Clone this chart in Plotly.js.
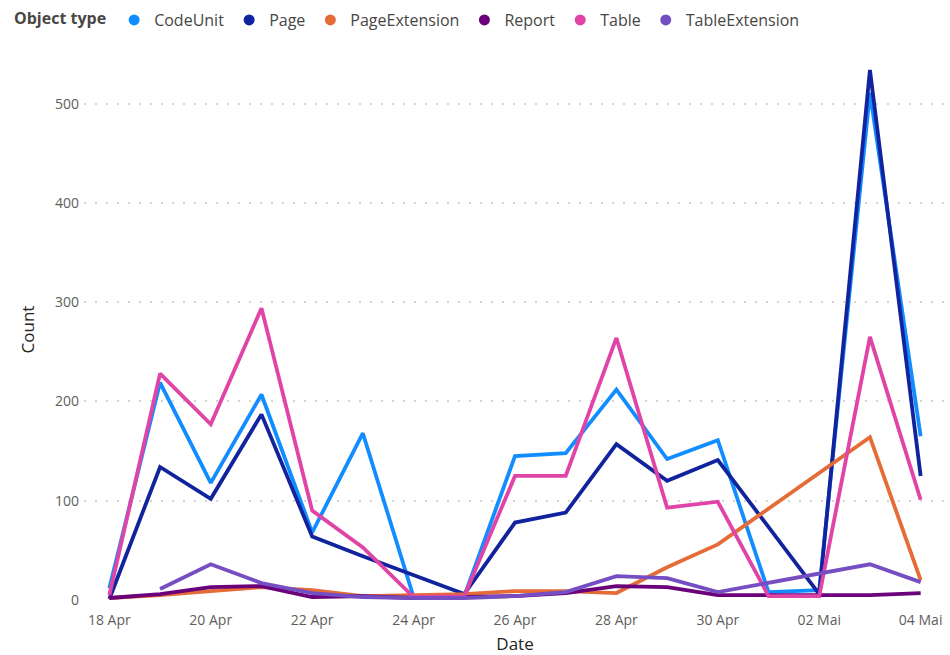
<!DOCTYPE html>
<html>
<head>
<meta charset="utf-8">
<script src="https://cdn.plot.ly/plotly-3.0.1.min.js"></script>
<style>
  html, body { margin: 0; padding: 0; background: #ffffff; }
  #chart { width: 950px; height: 655px; }
</style>
</head>
<body>
<div id="chart"></div>
<script>
const dates = ['2024-04-18','2024-04-19','2024-04-20','2024-04-21','2024-04-22','2024-04-23','2024-04-24','2024-04-25','2024-04-26','2024-04-27','2024-04-28','2024-04-29','2024-04-30','2024-05-01','2024-05-02','2024-05-03','2024-05-04'];
const seriesNames = ['CodeUnit','Page','PageExtension','Report','Table','TableExtension'];
const codeUnit       = [12, 219, 118, 207, 68, 168, 3, 4, 145, 148, 212, 142, 161, 8, 10, 511, 165];
const page           = [1, 134, 102, 187, 64, 44, null, 6, 78, 88, 157, 120, 141, null, 6, 534, 125];
const pageExtension  = [2, 5, 9, 13, 10, 4, 5, 6, 9, 9, 7, 33, 56, null, null, 164, 20];
const report         = [2, 6, 13, 14, 3, 4, 2, 3, 4, 7, 14, 13, 5, 5, 5, 5, 7];
const table          = [5, 228, 177, 294, 90, 53, 3, 4, 125, 125, 264, 93, 99, 4, 4, 265, 101];
const tableExtension = [null, 11, 36, 17, 7, 3, 2, 2, 4, 8, 24, 22, 8, null, null, 36, 18];
const tickDates  = ['2024-04-18','2024-04-20','2024-04-22','2024-04-24','2024-04-26','2024-04-28','2024-04-30','2024-05-02','2024-05-04'];
const tickLabels = ['18 Apr','20 Apr','22 Apr','24 Apr','26 Apr','28 Apr','30 Apr','02 Mai','04 Mai'];
const yTicks = [0, 100, 200, 300, 400, 500];

const colors = ['#118DFF','#12239E','#E66C37','#6B007B','#E044A7','#744EC2'];
const values = [codeUnit, page, pageExtension, report, table, tableExtension];
const FONT = '"Segoe UI", "Open Sans", "Noto Sans", sans-serif';

const traces = [];
values.forEach((v, i) => {
  traces.push({
    type: 'scatter', mode: 'lines', x: dates, y: v, name: seriesNames[i],
    line: {color: colors[i], width: 3.8}, connectgaps: true, showlegend: false,
    hovertemplate: '%{x}<br>%{y}<extra>' + seriesNames[i] + '</extra>'
  });
});
seriesNames.forEach((n, i) => {
  traces.push({
    type: 'scatter', mode: 'markers', x: [null], y: [null], name: n,
    marker: {color: colors[i], size: 11, symbol: 'circle'}, showlegend: true, hoverinfo: 'skip'
  });
});

const layout = {
  width: 950, height: 655,
  margin: {l: 84, r: 4, t: 59, b: 55},
  paper_bgcolor: '#ffffff', plot_bgcolor: '#ffffff',
  font: {family: FONT, color: '#605E5C', size: 14},
  showlegend: true,
  legend: {
    orientation: 'h', x: 12 / 950, y: 1 - 3 / 655, xref: 'container', yref: 'container',
    xanchor: 'left', yanchor: 'top',
    font: {family: FONT, size: 16, color: '#484644'},
    title: {text: '<b>Object type</b>', side: 'left', font: {family: FONT, size: 16, color: '#484644'}},
    itemwidth: 30, tracegroupgap: 0, bgcolor: 'rgba(0,0,0,0)'
  },
  xaxis: {
    type: 'date',
    range: ['2024-04-17 12:00', '2024-05-04 12:00'],
    tickvals: tickDates, ticktext: tickLabels,
    showgrid: false, zeroline: false, showline: false, ticks: '',
    tickfont: {family: FONT, size: 14, color: '#605E5C'},
    ticklabelstandoff: 10,
    title: {text: 'Date', font: {family: FONT, size: 17, color: '#252423'}, standoff: 11}
  },
  yaxis: {
    range: [0, 545],
    tickvals: yTicks,
    showgrid: true, gridcolor: '#D6D4D2', griddash: '2px,9px', gridwidth: 1.5,
    zeroline: false, showline: false, ticks: '',
    tickfont: {family: FONT, size: 14, color: '#605E5C'},
    ticklabelstandoff: 4,
    title: {text: 'Count', font: {family: FONT, size: 17, color: '#252423'}, standoff: 16}
  }
};

Plotly.newPlot('chart', traces, layout, {displayModeBar: false, responsive: false});
</script>
</body>
</html>
